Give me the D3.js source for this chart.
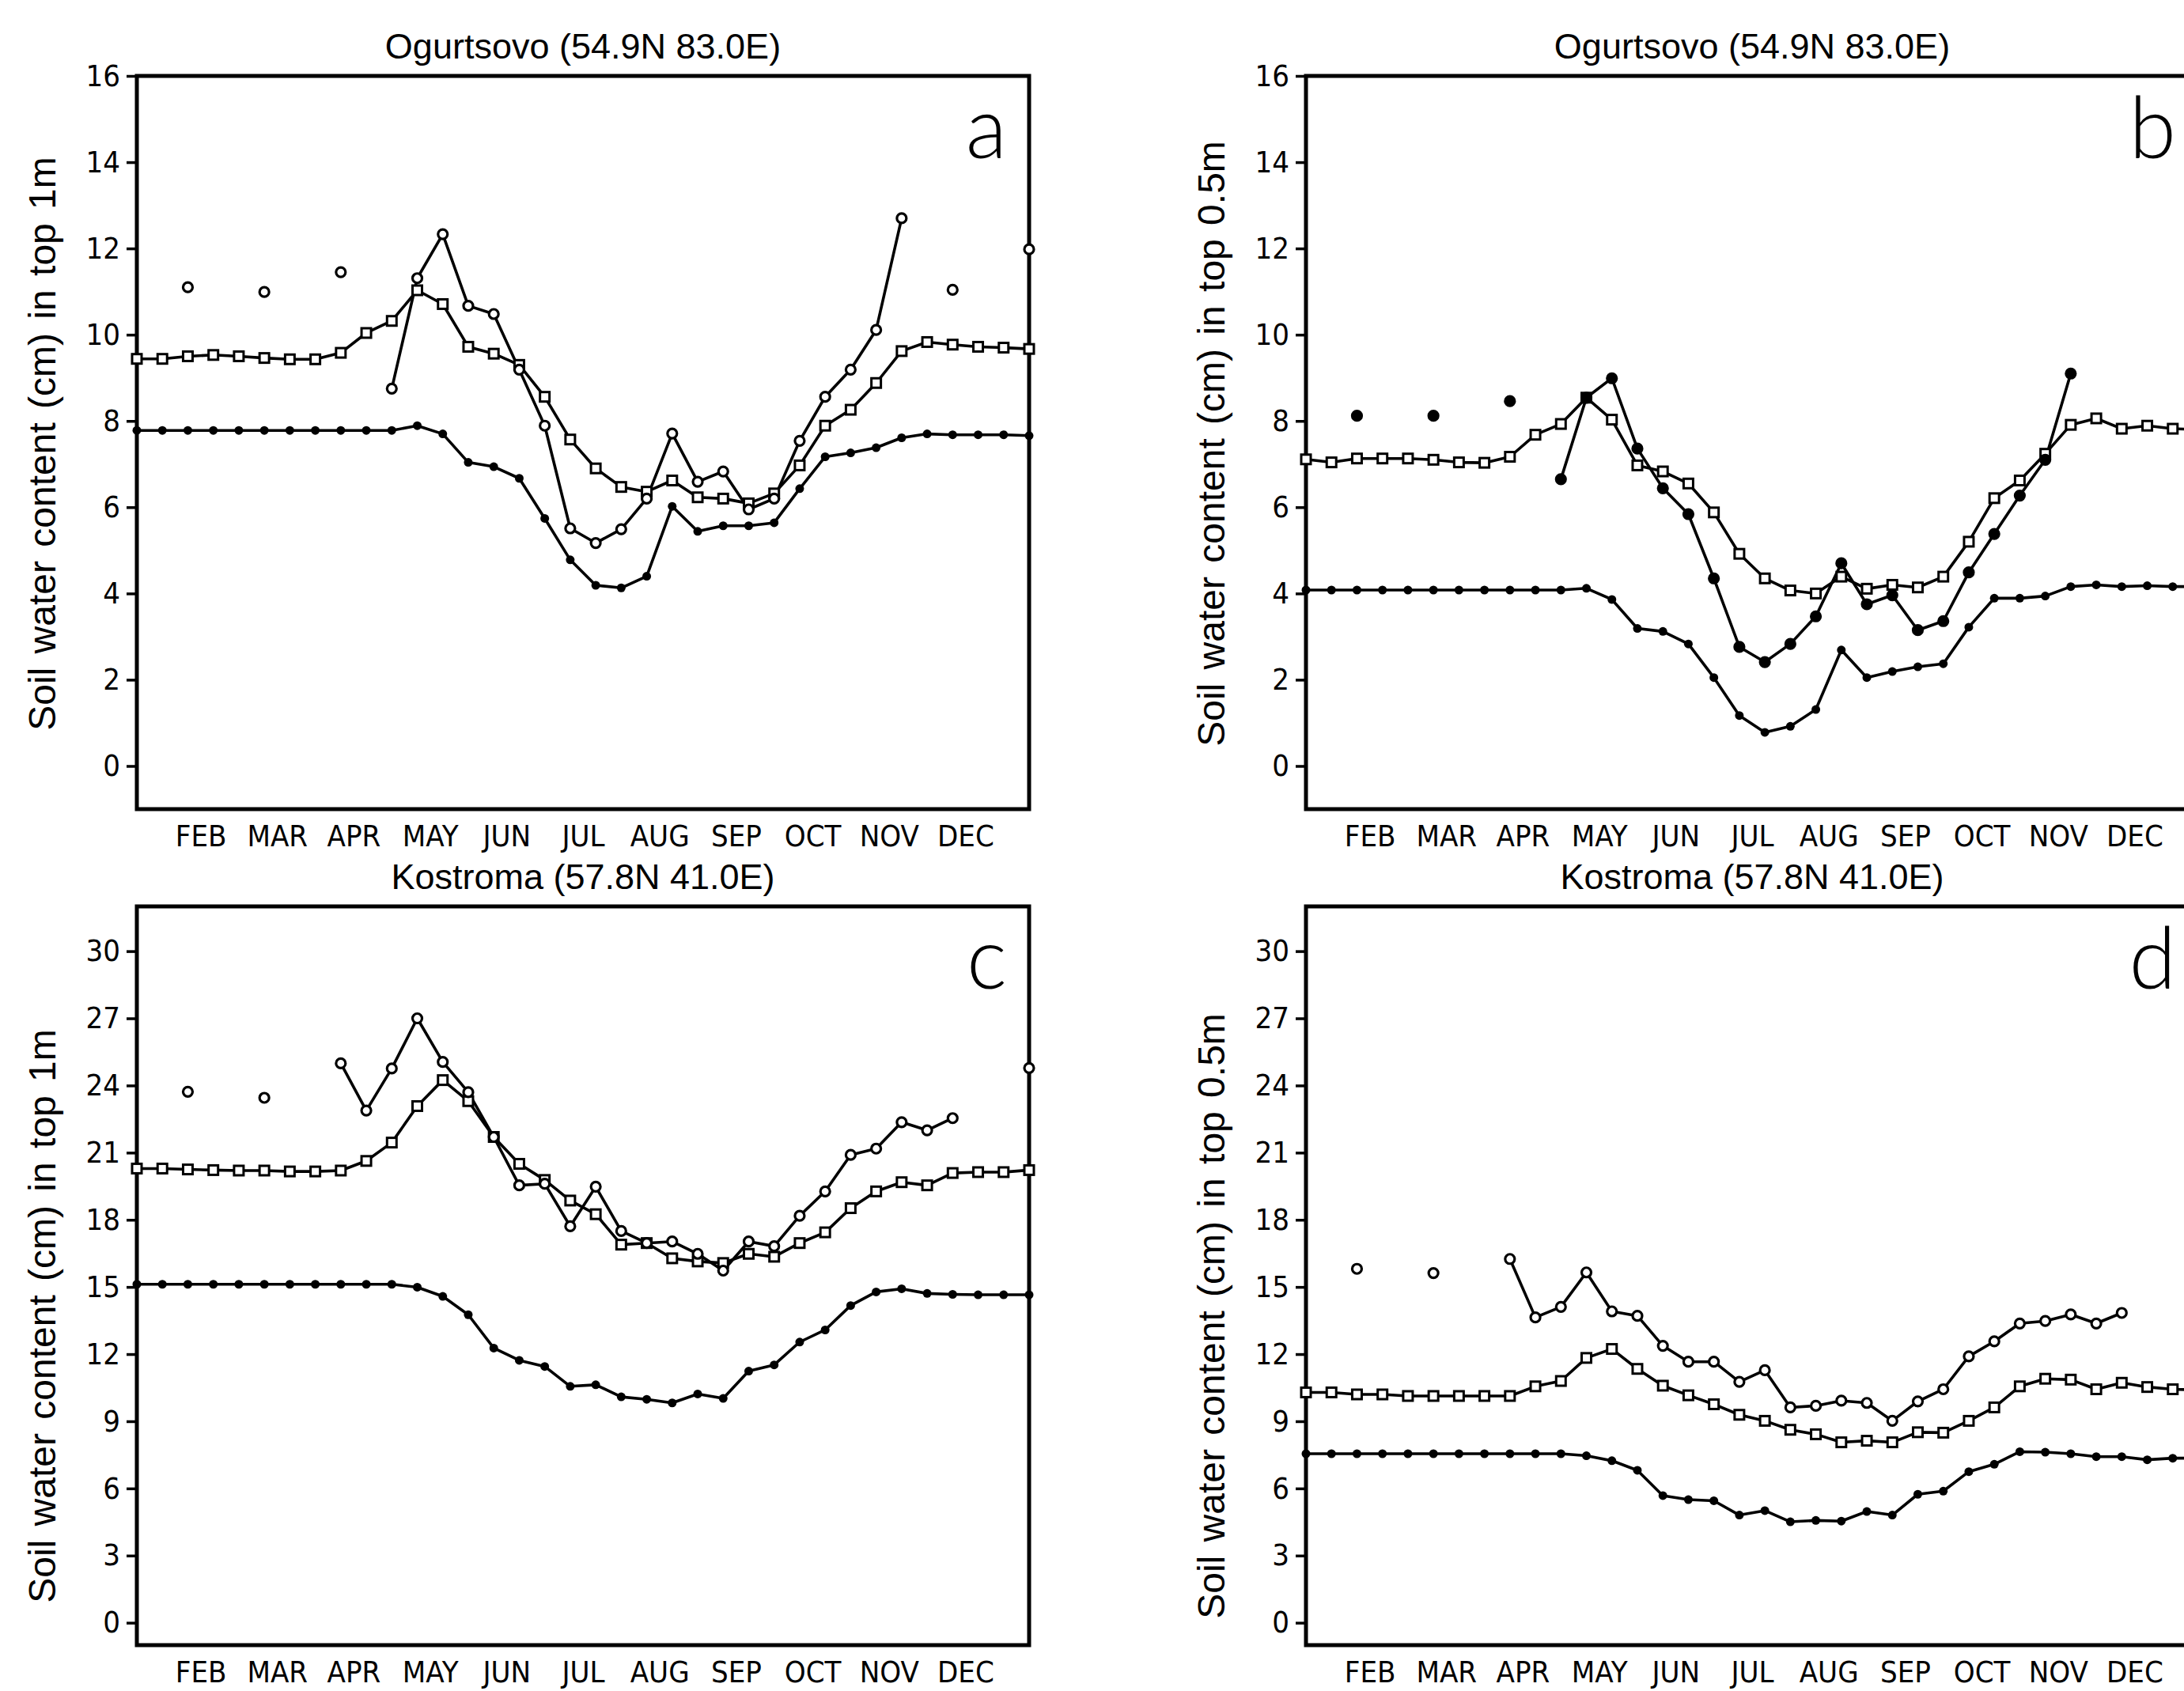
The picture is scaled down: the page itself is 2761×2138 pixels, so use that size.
<!DOCTYPE html>
<html><head><meta charset="utf-8">
<script src="https://cdn.jsdelivr.net/npm/d3@7"></script>
<style>
html,body{margin:0;padding:0;background:#fff;}
svg{display:block;}
</style></head><body>
<svg id="chart" width="2761" height="2138"></svg>
<script>
// ---------- data (dekad index 0..35 across the year) ----------
const months = ["FEB","MAR","APR","MAY","JUN","JUL","AUG","SEP","OCT","NOV","DEC"];
const monthPos = [2.5,5.5,8.5,11.5,14.5,17.5,20.5,23.5,26.5,29.5,32.5];
const dekads = d3.range(36);

const topTicks = [0,2,4,6,8,10,12,14,16];
const bottomTicks = [0,3,6,9,12,15,18,21,24,27,30];

// Panel a: Ogurtsovo, top 1m
const aSquares = [9.44,9.44,9.50,9.53,9.50,9.46,9.43,9.43,9.58,10.04,10.32,11.03,10.71,9.72,9.56,9.30,8.56,7.57,6.90,6.47,6.36,6.62,6.23,6.20,6.09,6.32,6.97,7.89,8.26,8.88,9.62,9.83,9.77,9.72,9.70,9.67];
const aObserved = [null,null,11.10,null,null,10.99,null,null,11.45,null,8.75,11.31,12.33,10.67,10.48,9.19,7.89,5.51,5.17,5.49,6.20,7.71,6.59,6.83,5.95,6.20,7.54,8.56,9.19,10.11,12.70,null,11.04,null,null,11.98];
const aDots = [7.78,7.78,7.78,7.78,7.78,7.78,7.78,7.78,7.78,7.78,7.78,7.89,7.70,7.04,6.94,6.67,5.74,4.78,4.19,4.13,4.40,6.02,5.44,5.57,5.57,5.64,6.43,7.17,7.26,7.38,7.61,7.70,7.68,7.68,7.68,7.66];

// Panel b: Ogurtsovo, top 0.5m
const bSquares = [7.11,7.04,7.13,7.13,7.13,7.10,7.04,7.03,7.17,7.68,7.93,8.54,8.03,6.97,6.83,6.55,5.88,4.92,4.35,4.07,4.00,4.39,4.11,4.20,4.14,4.39,5.20,6.21,6.62,7.24,7.91,8.06,7.82,7.89,7.82,7.80];
const bObserved = [null,null,8.12,null,null,8.12,null,null,8.46,null,6.65,8.54,8.99,7.36,6.44,5.84,4.35,2.76,2.41,2.83,3.47,4.70,3.75,3.96,3.15,3.36,4.49,5.38,6.27,7.10,9.10,null,null,null,null,null];
const bDots = [4.08,4.08,4.08,4.08,4.08,4.08,4.08,4.08,4.08,4.08,4.08,4.12,3.86,3.19,3.12,2.83,2.05,1.17,0.78,0.92,1.31,2.69,2.05,2.19,2.30,2.37,3.22,3.89,3.89,3.94,4.16,4.20,4.16,4.18,4.16,4.16];

// Panel c: Kostroma, top 1m
const cSquares = [20.29,20.29,20.25,20.22,20.20,20.20,20.16,20.16,20.20,20.63,21.45,23.08,24.24,23.30,21.70,20.50,19.78,18.86,18.25,16.89,16.96,16.28,16.14,16.07,16.48,16.35,16.96,17.44,18.52,19.27,19.68,19.54,20.09,20.13,20.13,20.22];
const cObserved = [null,null,23.72,null,null,23.45,null,null,24.99,22.88,24.76,27.00,25.05,23.70,21.70,19.54,19.61,17.71,19.48,17.50,16.96,17.03,16.48,15.73,17.03,16.82,18.18,19.27,20.90,21.18,22.36,22.00,22.54,null,null,24.78];
const cDots = [15.12,15.12,15.12,15.12,15.12,15.12,15.12,15.12,15.12,15.12,15.12,14.99,14.58,13.76,12.27,11.72,11.45,10.56,10.63,10.09,9.98,9.82,10.22,10.02,11.24,11.52,12.54,13.08,14.17,14.78,14.92,14.71,14.67,14.65,14.65,14.65];

// Panel d: Kostroma, top 0.5m
const dSquares = [10.29,10.29,10.20,10.20,10.13,10.13,10.13,10.13,10.13,10.56,10.80,11.83,12.23,11.34,10.59,10.16,9.76,9.29,9.02,8.62,8.42,8.06,8.13,8.06,8.51,8.49,9.02,9.62,10.56,10.90,10.86,10.43,10.72,10.53,10.43,10.40];
const dObserved = [null,null,15.81,null,null,15.62,null,null,16.25,13.64,14.11,15.65,13.91,13.71,12.37,11.66,11.66,10.76,11.28,9.62,9.69,9.92,9.82,9.02,9.89,10.43,11.90,12.57,13.37,13.48,13.77,13.37,13.84,null,null,null];
const dDots = [7.55,7.55,7.55,7.55,7.55,7.55,7.55,7.55,7.55,7.55,7.55,7.46,7.24,6.81,5.68,5.50,5.45,4.81,5.01,4.51,4.57,4.54,4.97,4.81,5.74,5.88,6.75,7.08,7.64,7.62,7.55,7.42,7.42,7.28,7.35,7.35];

const titleTop = "Ogurtsovo (54.9N 83.0E)";
const titleBottom = "Kostroma (57.8N 41.0E)";
const yLabel1m = "Soil water content (cm) in top 1m";
const yLabel05m = "Soil water content (cm) in top 0.5m";

// ---------- layout ----------
const panels = [
  {letter:"a", title:titleTop, ylab:yLabel1m, x:173, y:96, w:1128, h:927, dom:[-1,16], ticks:topTicks, sq:aSquares, ob:aObserved, dt:aDots, obFill:"#fff", labY:561},
  {letter:"b", title:titleTop, ylab:yLabel05m, x:1651, y:96, w:1128, h:927, dom:[-1,16], ticks:topTicks, sq:bSquares, ob:bObserved, dt:bDots, obFill:"#000", labY:561},
  {letter:"c", title:titleBottom, ylab:yLabel1m, x:173, y:1146, w:1128, h:934, dom:[-1,32], ticks:bottomTicks, sq:cSquares, ob:cObserved, dt:cDots, obFill:"#fff", labY:1664},
  {letter:"d", title:titleBottom, ylab:yLabel05m, x:1651, y:1146, w:1128, h:934, dom:[-1,32], ticks:bottomTicks, sq:dSquares, ob:dObserved, dt:dDots, obFill:"#fff", labY:1664}
];

const narrow = "'Liberation Sans Narrow','DejaVu Sans Condensed','Roboto Condensed','Liberation Sans',sans-serif";
const svg = d3.select("#chart");

panels.forEach(p => {
  const g = svg.append("g");
  const x = d3.scaleLinear().domain([0,35]).range([p.x, p.x + p.w]);
  const y = d3.scaleLinear().domain(p.dom).range([p.y + p.h, p.y]);

  // title
  g.append("text").attr("x", p.x + p.w/2).attr("y", p.y - 22)
    .attr("text-anchor","middle").attr("font-family","'Liberation Sans',sans-serif")
    .attr("font-size",45).text(p.title);

  // y-axis title
  g.append("text").attr("transform",`translate(${p.x-116},${p.labY}) rotate(-90)`)
    .attr("text-anchor","middle").attr("dominant-baseline","middle")
    .attr("font-family","'Liberation Sans',sans-serif").attr("font-size",48)
    .attr("word-spacing",4).text(p.ylab);

  // y axis
  const ya = g.append("g").attr("transform",`translate(${p.x},0)`)
    .call(d3.axisLeft(y).tickValues(p.ticks).tickSize(13).tickPadding(8).tickFormat(d3.format("d")));
  ya.select(".domain").remove();
  ya.selectAll(".tick line").attr("stroke","#000").attr("stroke-width",3.5);
  ya.selectAll(".tick text").attr("font-family",narrow).attr("font-size",38).attr("fill","#000");

  // month axis
  const xa = g.append("g").attr("transform",`translate(0,${p.y+p.h})`)
    .call(d3.axisBottom(x).tickValues(monthPos).tickSize(0).tickPadding(20).tickFormat((d,i)=>months[i]));
  xa.select(".domain").remove();
  xa.selectAll(".tick text").attr("font-family",narrow).attr("font-size",38).attr("fill","#000");

  // frame
  g.append("rect").attr("x",p.x).attr("y",p.y).attr("width",p.w).attr("height",p.h)
    .attr("fill","none").attr("stroke","#000").attr("stroke-width",5);

  // lines
  const line = d3.line().defined(d => d[1] !== null).x(d => x(d[0])).y(d => y(d[1]));
  [p.dt, p.sq, p.ob].forEach(series => {
    const pts = dekads.map(i => [i, series[i]]);
    g.append("path").datum(pts).attr("d", line)
      .attr("fill","none").attr("stroke","#000").attr("stroke-width",3.6).attr("stroke-linejoin","round");
  });

  // markers: model dots (filled)
  g.selectAll(null).data(dekads.filter(i => p.dt[i] !== null)).enter().append("circle")
    .attr("cx", i => x(i)).attr("cy", i => y(p.dt[i])).attr("r", 5.5).attr("fill","#000");
  // model squares (open)
  g.selectAll(null).data(dekads.filter(i => p.sq[i] !== null)).enter().append("rect")
    .attr("x", i => x(i) - 6).attr("y", i => y(p.sq[i]) - 6).attr("width", 12).attr("height", 12)
    .attr("fill","#fff").attr("stroke","#000").attr("stroke-width",3);
  // observed circles
  g.selectAll(null).data(dekads.filter(i => p.ob[i] !== null)).enter().append("circle")
    .attr("cx", i => x(i)).attr("cy", i => y(p.ob[i])).attr("r", 6)
    .attr("fill", p.obFill).attr("stroke","#000").attr("stroke-width",3.2);

  // panel letter
  g.append("text").attr("x", p.x + p.w - 28).attr("y", p.y + 104)
    .attr("text-anchor","end").attr("font-family","Lato,'Open Sans',sans-serif")
    .attr("font-weight",300).attr("font-size",108).text(p.letter);
});
</script>
</body></html>
